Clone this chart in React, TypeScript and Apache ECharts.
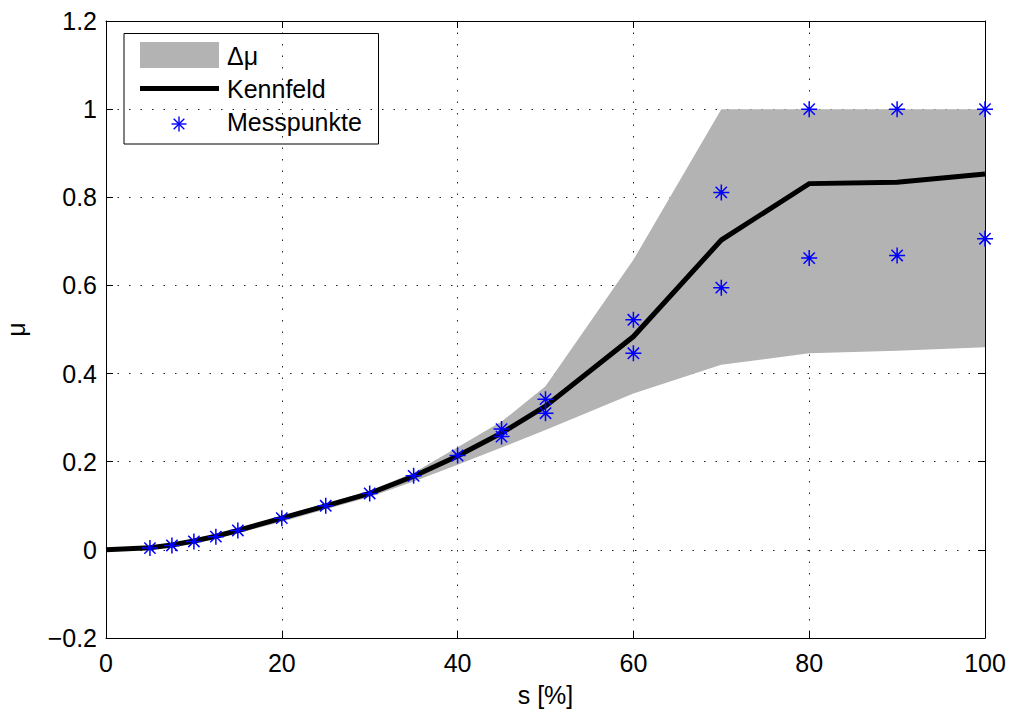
import React, { useEffect, useRef } from "react";
import * as echarts from "echarts";

// Kennfeld (characteristic map) line
const kennX = [0, 5, 7.5, 10, 12.5, 15, 20, 25, 30, 35, 40, 45, 50, 60, 70, 80, 90, 100];
const kennY = [0, 0.005, 0.011, 0.02, 0.031, 0.044, 0.072, 0.1, 0.128, 0.167, 0.213, 0.265, 0.326, 0.484, 0.703, 0.831, 0.834, 0.853];

// Δμ band
const bandUpper = [0, 0.007, 0.013, 0.023, 0.034, 0.048, 0.077, 0.105, 0.134, 0.175, 0.233, 0.291, 0.371, 0.658, 1.0, 1.0, 1.0, 1.0];
const bandLower = [0, 0.002, 0.007, 0.015, 0.025, 0.038, 0.064, 0.092, 0.12, 0.155, 0.193, 0.232, 0.272, 0.355, 0.42, 0.446, 0.452, 0.46];

// Messpunkte (measurement points)
const measX = [5, 7.5, 10, 12.5, 15, 20, 25, 30, 35, 40, 45, 45, 50, 50, 60, 60, 70, 70, 80, 80, 90, 90, 100, 100];
const measY = [0.004, 0.01, 0.019, 0.03, 0.044, 0.072, 0.1, 0.128, 0.168, 0.214, 0.274, 0.257, 0.342, 0.31, 0.522, 0.446, 0.811, 0.595, 1.0, 0.662, 1.0, 0.668, 1.0, 0.706];

const legendLabels = ["\u0394\u03bc", "Kennfeld", "Messpunkte"];

const FONT = "Liberation Sans, Arial, Helvetica, sans-serif";
const STAR = "path://M0,-10L0,10M-10,0L10,0M-7.07,-7.07L7.07,7.07M-7.07,7.07L7.07,-7.07";

function fmtY(v: number): string {
  const r = Math.round(v * 10) / 10;
  let s = String(r);
  if (r < 0) s = "\u2212" + String(-r);
  return s;
}

export default function App() {
  const ref = useRef<HTMLDivElement>(null);
  useEffect(() => {
    if (!ref.current) return;
    const chart = echarts.init(ref.current, undefined, { renderer: "svg" });

    const starLines = (cx: number, cy: number, r: number) => {
      const d = r * 0.7071;
      const segs = [
        [cx - r, cy, cx + r, cy],
        [cx, cy - r, cx, cy + r],
        [cx - d, cy - d, cx + d, cy + d],
        [cx - d, cy + d, cx + d, cy - d],
      ];
      return segs.map((s) => ({
        type: "line",
        shape: { x1: s[0], y1: s[1], x2: s[2], y2: s[3] },
        style: { stroke: "#0000ff", lineWidth: 1.4 },
      }));
    };

    const option: any = {
      animation: false,
      backgroundColor: "#ffffff",
      grid: { left: 106, right: 27, top: 21, bottom: 73, containLabel: false, outerBoundsMode: "none" },
      xAxis: [
        {
          type: "value",
          min: 0,
          max: 100,
          interval: 20,
          position: "bottom",
          name: "s [%]",
          nameLocation: "middle",
          nameGap: 44,
          nameTextStyle: { fontSize: 25, color: "#000", fontFamily: FONT },
          axisLine: { show: true, onZero: false, lineStyle: { color: "#000", width: 1 } },
          axisTick: { show: true, inside: true, length: 7, lineStyle: { color: "#000" } },
          axisLabel: { fontSize: 25, color: "#000", fontFamily: FONT, margin: 12 },
          splitLine: { show: true, lineStyle: { color: "#222", type: [1.5, 10], width: 1 } },
        },
        {
          type: "value",
          min: 0,
          max: 100,
          interval: 20,
          position: "top",
          axisLine: { show: true, onZero: false, lineStyle: { color: "#000", width: 1 } },
          axisTick: { show: true, inside: true, length: 7, lineStyle: { color: "#000" } },
          axisLabel: { show: false },
          splitLine: { show: false },
        },
      ],
      yAxis: [
        {
          type: "value",
          min: -0.2,
          max: 1.2,
          interval: 0.2,
          position: "left",
          name: "\u03bc",
          nameLocation: "middle",
          nameGap: 78,
          nameTextStyle: { fontSize: 25, color: "#000", fontFamily: FONT },
          axisLine: { show: true, onZero: false, lineStyle: { color: "#000", width: 1 } },
          axisTick: { show: true, inside: true, length: 7, lineStyle: { color: "#000" } },
          axisLabel: { fontSize: 25, color: "#000", fontFamily: FONT, margin: 9, formatter: fmtY },
          splitLine: { show: true, lineStyle: { color: "#222", type: [1.5, 10], width: 1 } },
        },
        {
          type: "value",
          min: -0.2,
          max: 1.2,
          interval: 0.2,
          position: "right",
          axisLine: { show: true, onZero: false, lineStyle: { color: "#000", width: 1 } },
          axisTick: { show: true, inside: true, length: 7, lineStyle: { color: "#000" } },
          axisLabel: { show: false },
          splitLine: { show: false },
        },
      ],
      series: [
        {
          name: legendLabels[0],
          type: "custom",
          xAxisIndex: 0,
          yAxisIndex: 0,
          clip: true,
          z: 1,
          encode: { x: 0, y: [1, 2] },
          data: kennX.map((x, i) => [x, bandLower[i], bandUpper[i]]),
          renderItem: (params: any, api: any) => {
            if (params.dataIndex !== 0) return null;
            const pts: number[][] = [];
            for (let i = 0; i < kennX.length; i++) pts.push(api.coord([kennX[i], bandUpper[i]]));
            for (let i = kennX.length - 1; i >= 0; i--) pts.push(api.coord([kennX[i], bandLower[i]]));
            return {
              type: "polygon",
              shape: { points: pts },
              style: { fill: "#b3b3b3", stroke: "none" },
            };
          },
        },
        {
          name: legendLabels[1],
          type: "line",
          xAxisIndex: 0,
          yAxisIndex: 0,
          z: 2,
          symbol: "none",
          data: kennX.map((x, i) => [x, kennY[i]]),
          lineStyle: { color: "#000", width: 5, join: "miter" },
        },
        {
          name: legendLabels[2],
          type: "scatter",
          xAxisIndex: 0,
          yAxisIndex: 0,
          z: 3,
          symbol: STAR,
          symbolSize: 16,
          data: measX.map((x, i) => [x, measY[i]]),
          itemStyle: { color: "rgba(0,0,0,0)", borderColor: "#0000ff", borderWidth: 1.5, opacity: 1 },
        },
      ],
      graphic: [
        {
          type: "group",
          z: 100,
          children: [
            {
              type: "rect",
              shape: { x: 124, y: 33.5, width: 254.5, height: 110.5 },
              style: { fill: "#fff", stroke: "#000", lineWidth: 1 },
            },
            {
              type: "rect",
              shape: { x: 140, y: 42, width: 79, height: 26 },
              style: { fill: "#b3b3b3" },
            },
            {
              type: "line",
              shape: { x1: 140, y1: 88.5, x2: 219, y2: 88.5 },
              style: { stroke: "#000", lineWidth: 5 },
            },
            ...starLines(179, 124, 7.5),
            {
              type: "text",
              x: 227,
              y: 56,
              style: { text: legendLabels[0], font: "25px " + FONT, fill: "#000", verticalAlign: "middle" },
            },
            {
              type: "text",
              x: 227,
              y: 89,
              style: { text: legendLabels[1], font: "25px " + FONT, fill: "#000", verticalAlign: "middle" },
            },
            {
              type: "text",
              x: 227,
              y: 122,
              style: { text: legendLabels[2], font: "25px " + FONT, fill: "#000", verticalAlign: "middle" },
            },
          ],
        },
      ],
    };
    chart.setOption(option);
    return () => chart.dispose();
  }, []);
  return <div ref={ref} style={{ width: 1012, height: 711, position: "absolute", left: 0, top: 0 }} />;
}
